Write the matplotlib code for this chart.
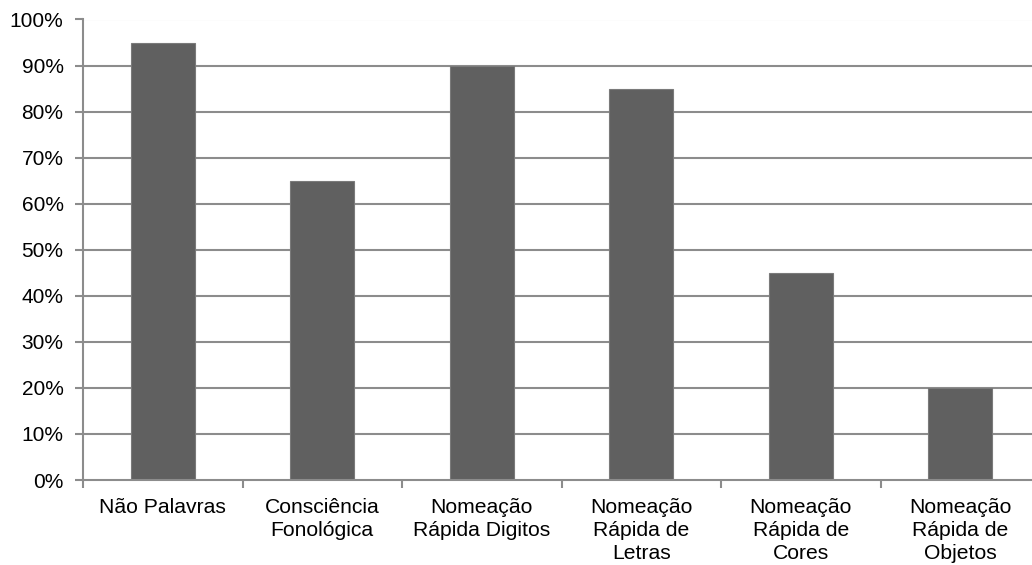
import matplotlib
matplotlib.use("Agg")
import matplotlib.pyplot as plt
from matplotlib.ticker import PercentFormatter, FixedLocator

categories = [
    "Não Palavras",
    "Consciência\nFonológica",
    "Nomeação\nRápida Digitos",
    "Nomeação\nRápida de\nLetras",
    "Nomeação\nRápida de\nCores",
    "Nomeação\nRápida de\nObjetos",
]
values = [95, 65, 90, 85, 45, 20]
y_ticks = list(range(0, 101, 10))

plt.rcParams["font.family"] = ["Liberation Sans", "DejaVu Sans"]

W, H = 1032, 565
fig = plt.figure(figsize=(W / 100, H / 100), dpi=100)
ax = fig.add_axes([83 / W, 85 / H, 957 / W, 460.5 / H])

grid_color = "#8c8c8c"
x = list(range(len(categories)))
ax.bar(x, values, width=0.4, color="#606060", edgecolor="#7a7a7a",
       linewidth=0.8, zorder=3)

ax.set_xlim(-0.5, len(categories) - 0.5)
ax.set_ylim(0, 100)
ax.set_yticks(y_ticks)
ax.yaxis.set_major_formatter(PercentFormatter(decimals=0))

for t in y_ticks[1:]:
    ax.axhline(t, color=grid_color if t < 100 else "#c4c4c4",
               linewidth=1.5, zorder=1)

ax.set_xticks(x)
ax.set_xticklabels(categories, fontsize=15.2, linespacing=1.27)
ax.xaxis.set_minor_locator(FixedLocator([i - 0.5 for i in range(len(categories) + 1)]))
ax.tick_params(axis="x", which="major", length=0, pad=13)
ax.tick_params(axis="x", which="minor", length=6, width=1.5, color=grid_color)
ax.tick_params(axis="y", which="major", length=6, width=1.5, color=grid_color,
               labelsize=15, pad=8)

for side in ("top", "right"):
    ax.spines[side].set_visible(False)
for side in ("left", "bottom"):
    ax.spines[side].set_color(grid_color)
    ax.spines[side].set_linewidth(1.5)
    ax.spines[side].set_zorder(4)

fig.savefig("out.png", dpi=100)
